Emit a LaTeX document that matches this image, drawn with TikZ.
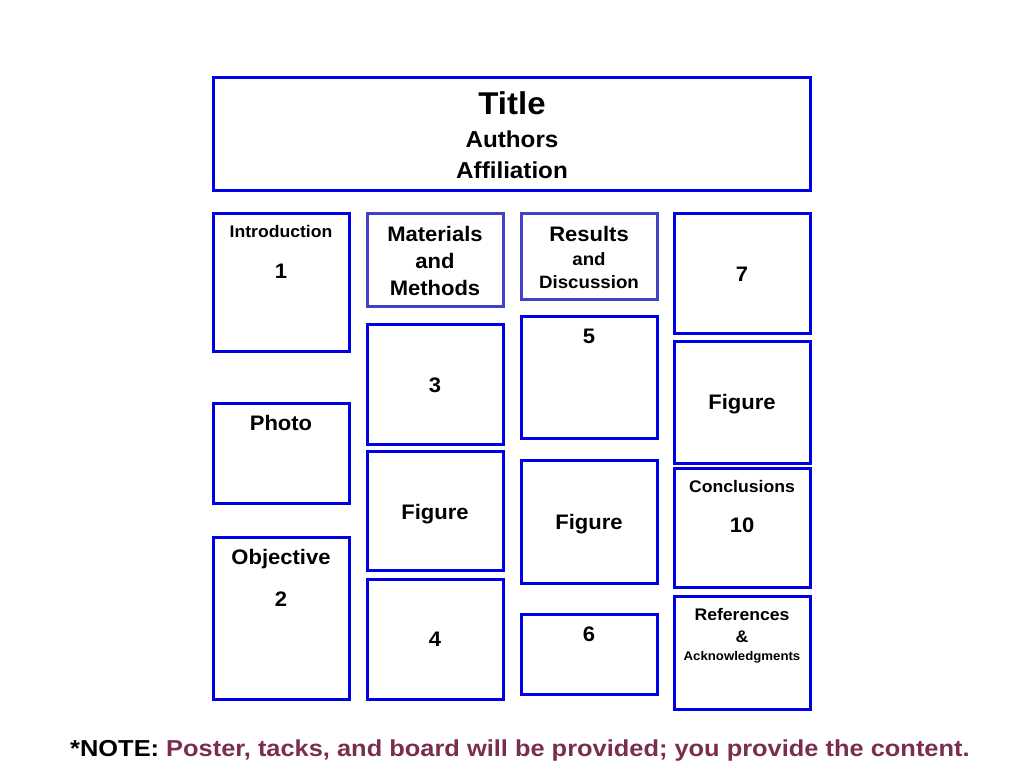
\documentclass[tikz,border=0pt]{standalone}
\usepackage{fontspec}
\setmainfont{Liberation Sans}
\begin{document}
\begin{tikzpicture}[x=1pt,y=-1pt,
  bx/.style={draw=blue!90!black,line width=3pt},
  bx2/.style={draw=bxc,line width=3pt},
  t/.style={font=\bfseries\fontsize{#1}{#1}\selectfont,inner sep=0pt,anchor=base,xscale=1.1,yscale=1.05}]
\definecolor{bxc}{HTML}{4040C8}
\useasboundingbox (0,0) rectangle (1024,768);
\definecolor{notec}{HTML}{7B2D4F}
\draw[bx] (213,77) rectangle (810,190);
\draw[bx] (213,213) rectangle (349,351);
\draw[bx] (213,403) rectangle (349,503);
\draw[bx] (213,537) rectangle (349,699);
\draw[bx2] (367,213) rectangle (503,306);
\draw[bx] (367,324) rectangle (503,444);
\draw[bx] (367,451) rectangle (503,570);
\draw[bx] (367,579) rectangle (503,699);
\draw[bx2] (521,213) rectangle (657,299);
\draw[bx] (521,316) rectangle (657,438);
\draw[bx] (521,460) rectangle (657,583);
\draw[bx] (521,614) rectangle (657,694);
\draw[bx] (674,213) rectangle (810,333);
\draw[bx] (674,341) rectangle (810,463);
\draw[bx] (674,468) rectangle (810,587);
\draw[bx] (674,596) rectangle (810,709);
\node[t=30] (ti) at (512,114) {Title};
\node[t=22] (au) at (512,147) {Authors};
\node[t=22] (af) at (512,178) {Affiliation};
\node[t=16] (in) at (281,237) {Introduction};
\node[t=20] (n1) at (281,278) {1};
\node[t=20] (ph) at (281,430) {Photo};
\node[t=20] (ob) at (281,564) {Objective};
\node[t=20] (n2) at (281,606) {2};
\node[t=20] (ma) at (435,241) {Materials};
\node[t=20] (an) at (435,268) {and};
\node[t=20] (me) at (435,295) {Methods};
\node[t=20] (n3) at (435,392) {3};
\node[t=20] (f2) at (435,519) {Figure};
\node[t=20] (n4) at (435,646) {4};
\node[t=20] (re) at (589,241) {Results};
\node[t=17] (an2) at (589,265) {and};
\node[t=17] (di) at (589,288) {Discussion};
\node[t=20] (n5) at (589,343) {5};
\node[t=20] (f3) at (589,529) {Figure};
\node[t=20] (n6) at (589,641) {6};
\node[t=20] (n7) at (742,281) {7};
\node[t=20] (f4) at (742,409) {Figure};
\node[t=16] (co) at (742,492) {Conclusions};
\node[t=20] (n10) at (742,532) {10};
\node[t=16] (rf) at (742,620) {References};
\node[t=16] (am) at (742,642) {\&};
\node[t=12] (ac) at (742,660) {Acknowledgments};
\node[t=22,anchor=base west,xscale=1.05] (no) at (70,756) {*NOTE: \textcolor{notec}{Poster, tacks, and board will be provided; you provide the content.}};
\end{tikzpicture}
\end{document}
